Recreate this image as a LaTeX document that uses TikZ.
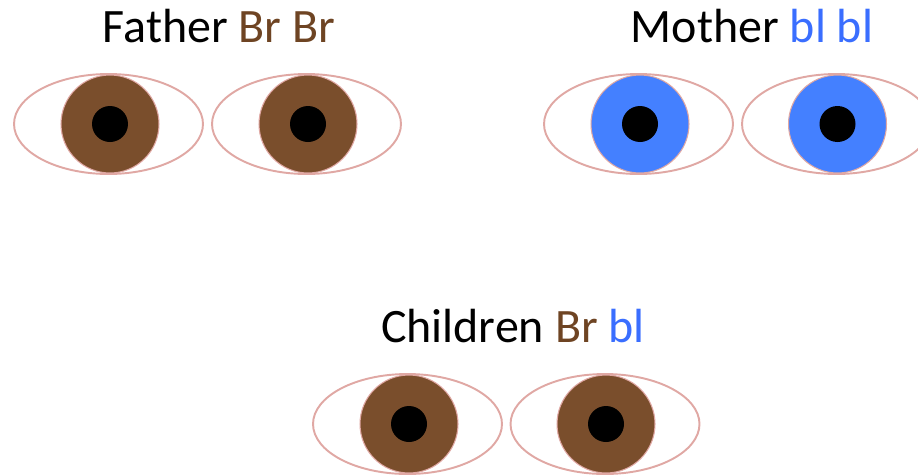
\documentclass[tikz,border=0pt]{standalone}
\usepackage{fontspec}
\setmainfont{Carlito}
\usepackage{tikz}
\usetikzlibrary{shapes.geometric, positioning}
\definecolor{eyeline}{HTML}{E0A8A4}
\definecolor{irisbrown}{HTML}{7A4E2C}
\definecolor{irisblue}{HTML}{4480FF}
\definecolor{textbrown}{HTML}{6E4423}
\definecolor{textblue}{HTML}{3A6EFF}
\tikzset{
    eyeball/.style = {draw=eyeline, line width=1.1pt, fill=white, ellipse, inner sep=0pt, minimum width=3.78cm, minimum height=2cm},
    iris/.style = {draw=eyeline, line width=0.6pt, circle, inner sep=0pt, minimum size=1.96cm},
    pupil/.style = {fill=black, circle, inner sep=0pt, minimum size=0.72cm},
    parent/.style = {anchor=base, font=\fontsize{27.3}{31}\selectfont}
}
\begin{document}
\begin{tikzpicture}[x=0.02cm, y=-0.02cm]
    \useasboundingbox (0,0) rectangle (918,474);
    \clip (0,0) rectangle (918,474);

    % Labels
    \node[parent] (father) at (219,42) {Father \textcolor{textbrown}{Br Br}};
    \node[parent] (mother) at (752,42) {Mother \textcolor{textblue}{bl bl}};
    \node[parent] (children) at (513,342) {Children \textcolor{textbrown}{Br} \textcolor{textblue}{bl}};

    % Father's eyes
    \node[eyeball] (fl) at (108.5,124) {};
    \node[iris, fill=irisbrown] (fli) at (110,124) {};
    \node[pupil] at (fli) {};
    \node[eyeball] (fr) at (306.5,124) {};
    \node[iris, fill=irisbrown] (fri) at (308,124) {};
    \node[pupil] at (fri) {};

    % Mother's eyes
    \node[eyeball] (ml) at (638.5,124) {};
    \node[iris, fill=irisblue] (mli) at (640,124) {};
    \node[pupil] at (mli) {};
    \node[eyeball] (mr) at (836.5,124) {};
    \node[iris, fill=irisblue] (mri) at (837.5,124) {};
    \node[pupil] at (mri) {};

    % Children's eyes
    \node[eyeball] (cl) at (407.5,424) {};
    \node[iris, fill=irisbrown] (cli) at (409,424) {};
    \node[pupil] at (cli) {};
    \node[eyeball] (cr) at (605,424) {};
    \node[iris, fill=irisbrown] (cri) at (606,424) {};
    \node[pupil] at (cri) {};
\end{tikzpicture}
\end{document}
